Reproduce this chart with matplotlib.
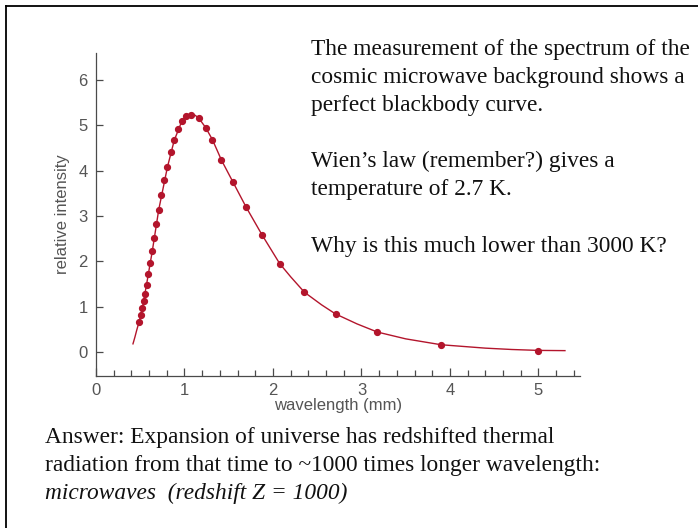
import numpy as np
import matplotlib.pyplot as plt
from matplotlib.lines import Line2D
from matplotlib.ticker import MultipleLocator

# measured points (wavelength in mm, relative intensity)
wl = [0.487, 0.505, 0.524, 0.538, 0.553, 0.571, 0.585, 0.611, 0.636, 0.655,
      0.680, 0.709, 0.738, 0.771, 0.807, 0.851, 0.884, 0.927, 0.971, 1.022,
      1.073, 1.160, 1.240, 1.316, 1.418, 1.545, 1.698, 1.876, 2.076, 2.355,
      2.707, 3.180, 3.900, 5.000]
inten = [0.665, 0.806, 0.968, 1.123, 1.271, 1.486, 1.729, 1.966, 2.225, 2.513,
         2.816, 3.141, 3.459, 3.799, 4.080, 4.420, 4.671, 4.915, 5.100, 5.211,
         5.240, 5.166, 4.952, 4.686, 4.235, 3.762, 3.193, 2.587, 1.951, 1.320,
         0.840, 0.440, 0.160, 0.030]

# blackbody curve
curve_x = [0.418, 0.44, 0.46, 0.487, 0.524, 0.571, 0.636, 0.709, 0.807, 0.884,
           0.971, 1.022, 1.073, 1.120, 1.160, 1.240, 1.316, 1.418, 1.545, 1.698,
           1.876, 2.076, 2.20, 2.355, 2.55, 2.707, 2.95, 3.18, 3.50, 3.90,
           4.40, 4.70, 5.00, 5.30]
curve_y = [0.18, 0.33, 0.48, 0.665, 0.968, 1.486, 2.225, 3.141, 4.080, 4.671,
           5.100, 5.211, 5.240, 5.225, 5.166, 4.952, 4.686, 4.235, 3.762, 3.193,
           2.587, 1.951, 1.66, 1.320, 1.04, 0.840, 0.62, 0.440, 0.29, 0.160,
           0.085, 0.055, 0.035, 0.03]

W, H = 698, 528
red = '#b3152c'
grey = '#4a4a4a'

fig = plt.figure(figsize=(W / 100, H / 100), dpi=100)
ax = fig.add_axes([96 / W, 1 - 376 / H, (580 - 96) / W, (376 - 53) / H])

ax.plot(curve_x, curve_y, color=red, lw=1.0)
ax.plot(wl, inten, 'o', color=red, ms=4.2, mec=red)

ax.set_xlim(0, 5.47)
ax.set_ylim(-0.53, 6.6)
for s in ['top', 'right']:
    ax.spines[s].set_visible(False)
for s in ['left', 'bottom']:
    ax.spines[s].set_color(grey)
    ax.spines[s].set_linewidth(0.9)

ax.xaxis.set_major_locator(MultipleLocator(1))
ax.xaxis.set_minor_locator(MultipleLocator(0.2))
ax.set_yticks(range(0, 7))
ax.tick_params(axis='x', which='major', direction='in', length=6, width=0.9,
               color=grey, labelcolor='#555555', labelsize=12, pad=5)
ax.tick_params(axis='x', which='minor', direction='in', length=4, width=0.9, color=grey)
ax.tick_params(axis='y', direction='in', length=5, width=0.9, color=grey,
               labelcolor='#555555', labelsize=12, pad=6)
for lab in ax.get_xticklabels() + ax.get_yticklabels():
    lab.set_family('Liberation Sans')

ax.set_xlabel('wavelength (mm)', family='Liberation Sans', fontsize=12,
              color='#555555', labelpad=0)
ax.set_ylabel('relative intensity', family='Liberation Sans', fontsize=12,
              color='#555555', labelpad=6)

# slide text
def ftext(x, y, s, **kw):
    fig.text(x / W, 1 - y / H, s, family='Liberation Serif', fontsize=16.8,
             va='center', ha='left', color='#111111', **kw)

right_lines = ['The measurement of the spectrum of the',
               'cosmic microwave background shows a',
               'perfect blackbody curve.',
               '',
               'Wien\u2019s law (remember?) gives a',
               'temperature of 2.7 K.',
               '',
               'Why is this much lower than 3000 K?']
for i, s in enumerate(right_lines):
    if s:
        ftext(311, 49 + i * 28.2, s)

ftext(45, 437, 'Answer: Expansion of universe has redshifted thermal')
ftext(45, 465, 'radiation from that time to ~1000 times longer wavelength:')
ftext(45, 493, 'microwaves  (redshift Z = 1000)', style='italic')

# frame of the slide box
fig.add_artist(Line2D([6 / W, 6 / W], [0, 1 - 6 / H], color='black', lw=1.3))
fig.add_artist(Line2D([6 / W, 1], [1 - 6 / H, 1 - 6 / H], color='black', lw=1.3))

fig.savefig('out.png', dpi=100)
